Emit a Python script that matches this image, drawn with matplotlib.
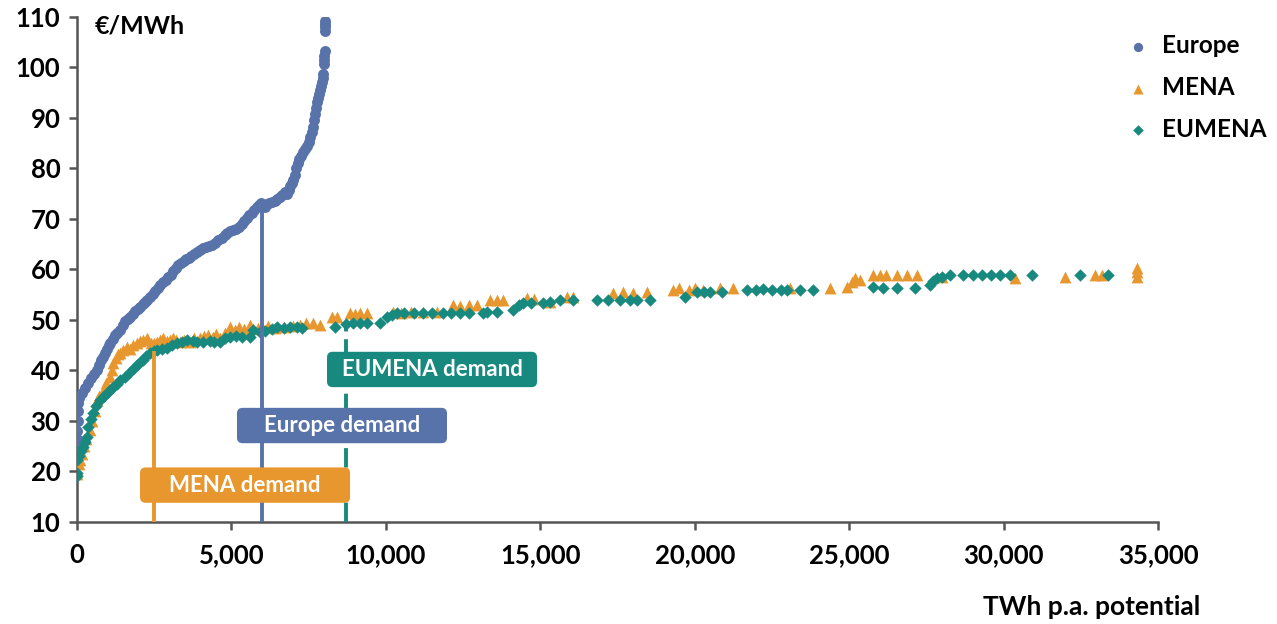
import matplotlib
matplotlib.use('Agg')
import matplotlib.pyplot as plt
from matplotlib.patches import FancyBboxPatch
from matplotlib.ticker import FuncFormatter

# Europe cost-potential curve (TWh p.a., EUR/MWh)
europe_x = [0, 0, 10, 20, 30, 40, 80, 150, 250, 350, 450, 550, 650, 720, 780, 842, 900, 960,
            1020, 1069, 1150, 1230, 1300, 1392, 1480, 1560, 1640, 1716, 1800, 1880, 1960, 2040,
            2130, 2200, 2280, 2364, 2450, 2540, 2620, 2700, 2780, 2870, 2950, 3030, 3110, 3200,
            3280, 3360, 3450, 3540, 3620, 3700, 3790, 3880, 3983, 4080, 4180, 4280, 4380, 4480,
            4580, 4680, 4780, 4870, 4960, 5050, 5150, 5250, 5340, 5420, 5500, 5580, 5660, 5740,
            5820, 5900, 5960, 6020, 6080, 6150, 6230, 6320, 6400, 6480, 6560, 6640, 6720, 6800,
            6850, 6900, 6950, 7000, 7050, 7100, 7150, 7200, 7260, 7320, 7380, 7440, 7500, 7550,
            7600, 7640, 7680, 7710, 7740, 7770, 7800, 7830, 7860, 7890, 7920, 7950, 7970, 7990,
            8000, 8010, 8020, 8030, 8035, 8040, 8045]
europe_y = [25, 26.5, 28, 30, 32, 33.5, 34.5, 35.5, 36.5, 37.5, 38.5, 39.3, 40, 41, 42, 42.7, 43.5, 44.3,
            45, 45.4, 46.3, 47, 47.5, 48, 49, 49.8, 50.2, 50.6, 51.2, 51.8, 52.2, 52.6,
            53.2, 53.6, 53.9, 54.5, 55.2, 55.8, 56.3, 57, 57.5, 58, 58.5, 59, 59.6, 60.2,
            60.8, 61.3, 61.6, 62, 62.3, 62.7, 63.1, 63.5, 63.9, 64.2, 64.4, 64.6, 64.9, 65.3,
            65.8, 66.3, 66.8, 67.3, 67.6, 67.8, 68, 68.4, 69, 69.6, 70.2, 70.7, 71.2, 71.8,
            72.3, 72.7, 73.2, 72.8, 72.3, 73, 73.2, 73.4, 73.6, 74, 74.4, 74.8, 75.4, 75,
            75.8, 76.5, 77.2, 77.8, 78.8, 80, 81, 81.8, 82.5, 83.2, 83.8, 84.5, 85.3, 86.3,
            87.3, 88.3, 89.5, 90.7, 92, 93.2, 94, 94.8, 95.6, 96.4, 97.2, 98, 98.8, 100.7,
            101.5, 102.3, 103.2, 107.3, 108, 108.6, 109.2]

mena_x = [0, 0, 50, 97, 150, 220, 300, 421, 500, 570, 648, 720, 842, 950, 1069, 1120, 1166, 1250,
          1320, 1392, 1500, 1619, 1700, 1800, 1943, 2050, 2150, 2267, 2400, 2500, 2600, 2688, 2800,
          2900, 3011, 3100, 3200, 3335, 3450, 3550, 3659, 3800, 3983, 4100, 4250, 4400, 4500, 4631,
          4800, 4954, 5100, 5250, 5400, 5600, 5700, 5850, 6000, 6200, 6400, 6700, 7000, 7221, 7400,
          7642, 7869, 8257, 8419, 8840, 9000, 9150, 9390, 10232, 10500, 10800, 11200, 11657, 12175,
          12400, 12700, 12952, 13373, 13600, 13794, 14571, 14800, 15316, 15866, 16061, 17356, 17680,
          18003, 18457, 19298, 19500, 19800, 20000, 20270, 20820, 21241, 23087, 24382, 24933, 25100,
          25200, 25354, 25775, 26000, 26200, 26552, 26876, 27200, 28000, 30373, 31992, 32963, 33190,
          34323, 34323, 34323]
mena_y = [19.5, 20.3, 21.5, 22.3, 23.5, 25, 26.5, 28.2, 30, 32, 34.2, 35, 36, 37.5, 38.7, 40, 41.5, 42.5,
          43.2, 43.5, 44, 44.7, 44.3, 45, 45.4, 45.8, 46, 46.4, 45.5, 45.4, 45.6, 46, 46.4,
          45.8, 46, 46.5, 46, 45.7, 46, 45.8, 45.7, 46.4, 46.4, 46.8, 47, 46.6, 47.3, 46.4,
          47.5, 48.6, 48, 48.6, 48.2, 49, 48.3, 48.4, 48.6, 48.8, 48.4, 48.6, 48.8, 49, 49.4,
          49.4, 49, 50.6, 50.6, 51.4, 51.2, 51.4, 51.4, 51.6, 51.4, 51.6, 51.6, 51.6, 53,
          52.8, 53, 53, 54, 54, 54, 54.4, 54.2, 53.6, 54.6, 54.6, 55.3, 55.5,
          55.3, 55.5, 56, 56.3, 56, 56.3, 56, 56.3, 56.3, 56.3, 56.3, 56.5, 57.5,
          58.3, 58, 58.9, 58.9, 58.9, 58.9, 58.9, 58.9, 58.5, 58.3, 58.5, 58.9, 58.9,
          58.5, 59.5, 60.3]

eumena_x = [0, 0, 0, 60, 120, 194, 260, 324, 356, 440, 518, 620, 745, 860, 971, 1070, 1166, 1280,
            1392, 1550, 1716, 1830, 1943, 2040, 2137, 2250, 2364, 2480, 2590, 2750, 2914, 3080, 3238,
            3400, 3562, 3750, 3900, 4080, 4300, 4450, 4631, 4800, 4954, 5150, 5350, 5600, 5700, 5926,
            6100, 6300, 6476, 6700, 6900, 7124, 7300, 8354, 8700, 8937, 9150, 9390, 9811, 10038, 10200,
            10362, 10600, 10900, 11204, 11500, 11851, 12100, 12400, 12700, 13146, 13276, 13600, 14118,
            14300, 14441, 14700, 15089, 15300, 15640, 16061, 16838, 17200, 17583, 17900, 18133, 18554,
            19687, 20076, 20300, 20497, 20885, 21695, 22000, 22200, 22500, 22800, 22990, 23410, 23832,
            25775, 26100, 26552, 27134, 27620, 27700, 27850, 28000, 28267, 28690, 29000, 29300, 29600,
            29887, 30211, 30923, 32478, 33384]
eumena_y = [19.2, 19.7, 22.3, 23, 24, 24.9, 25.8, 26.8, 28.8, 30.3, 31.6, 33, 34.2, 35, 35.5, 36.2, 36.7, 37.4,
            38.1, 38.8, 39.7, 40.4, 41.1, 41.6, 42.1, 42.8, 43.5, 43.8, 44, 44.3, 44.5, 45, 45.4,
            45.7, 46, 45.9, 45.6, 45.7, 45.8, 45.7, 45.7, 46.5, 46.7, 46.8, 46.7, 46.7, 48, 47.6,
            47.9, 48.2, 48.6, 48.5, 48.6, 48.6, 48.4, 48.6, 49.2, 49.4, 49.4, 49.4, 49.4, 50.6, 51,
            51.4, 51.4, 51.4, 51.4, 51.4, 51.4, 51.4, 51.4, 51.4, 51.4, 51.6, 51.6, 52,
            53, 53.4, 53.4, 53.4, 53.6, 54, 54, 54, 54, 54, 54, 54, 54,
            54.6, 55.5, 55.5, 55.5, 55.5, 56, 56, 56.2, 56, 56, 56, 56, 56,
            56.5, 56.3, 56.3, 56.3, 57, 57.8, 58.3, 58.5, 58.9, 58.9, 58.9, 58.9, 58.9,
            58.9, 58.9, 58.9, 58.9, 58.9]

# demand markers
demand_names = ['MENA demand', 'Europe demand', 'EUMENA demand']
demand_x = [2500, 6000, 8700]
demand_top = [43.5, 72.5, 48.5]
box_left = [2040, 5180, 8095]
box_bottom = [13.8, 25.6, 36.7]

BLUE = '#5873a9'
ORANGE = '#e8962e'
TEAL = '#17897f'

plt.rcParams['font.family'] = ['Lato', 'DejaVu Sans']

fig = plt.figure(figsize=(12.77, 6.24), dpi=100)
ax = fig.add_axes([0.0603, 0.1635, 0.8465, 0.8093])

ax.scatter(europe_x, europe_y, s=62, marker='o', color=BLUE, linewidths=0, label='Europe', zorder=3)
ax.scatter(mena_x, mena_y, s=72, marker='^', color=ORANGE, linewidths=0, label='MENA', zorder=3)
ax.scatter(eumena_x, eumena_y, s=40, marker='D', color=TEAL, linewidths=0, label='EUMENA', zorder=4)

cols = [ORANGE, BLUE, TEAL]
styles = ['-', '-', (0, (5, 2))]
box_w = 6800
box_h = 7.0
for name, x, top, bl, bb, c, ls in zip(demand_names, demand_x, demand_top, box_left, box_bottom, cols, styles):
    ax.plot([x, x], [10, top], color=c, lw=2.8, ls=ls, zorder=5)
    box = FancyBboxPatch((bl, bb), box_w, box_h,
                         boxstyle='round,pad=0,rounding_size=180',
                         mutation_aspect=0.0061, fc=c, ec='none', zorder=6)
    ax.add_patch(box)
    ax.text(bl + box_w / 2, bb + box_h / 2, name, color='white', fontsize=16,
            ha='center', va='center', fontweight='bold', zorder=7)

ax.set_xlim(0, 35000)
ax.set_ylim(10, 110)
ax.set_xticks(range(0, 35001, 5000))
ax.set_yticks(range(10, 111, 10))
ax.xaxis.set_major_formatter(FuncFormatter(lambda v, p: f'{int(v):,}'))
for s in ['top', 'right']:
    ax.spines[s].set_visible(False)
for s in ['left', 'bottom']:
    ax.spines[s].set_color('#555555')
    ax.spines[s].set_linewidth(1.8)
ax.tick_params(axis='both', direction='out', length=6, width=1.8, color='#555555',
               labelsize=18.5)
ax.tick_params(axis='x', pad=9)
ax.tick_params(axis='y', pad=6)
for lab in ax.get_xticklabels() + ax.get_yticklabels():
    lab.set_fontweight('bold')

ax.text(583, 108.3, '€/MWh', fontsize=18, fontweight='bold', va='center', ha='left')
fig.text(0.9397, 0.027, 'TWh p.a. potential', fontsize=19, fontweight='bold', ha='right', va='center')

leg = fig.legend(loc='upper left', bbox_to_anchor=(0.8715, 0.969), frameon=False,
                 fontsize=17.5, handletextpad=0.5, labelspacing=0.78, markerscale=0.85,
                 handlelength=0.9, borderaxespad=0.2)
for t in leg.get_texts():
    t.set_fontweight('bold')

fig.savefig('out.png', dpi=100)
